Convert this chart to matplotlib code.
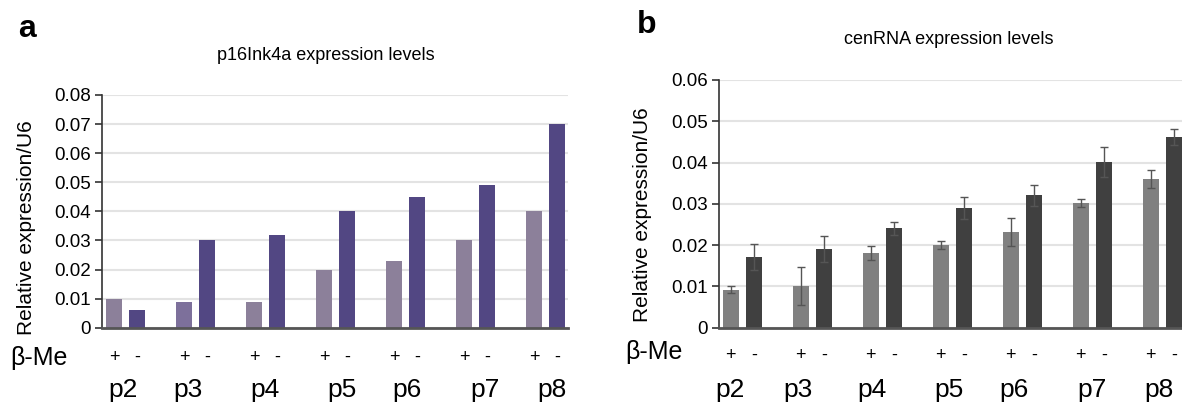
import numpy as np
import matplotlib.pyplot as plt
import matplotlib.transforms as mtransforms

plt.rcParams['font.family'] = ['Liberation Sans Narrow', 'Liberation Sans', 'DejaVu Sans']

passages = ["p2", "p3", "p4", "p5", "p6", "p7", "p8"]

# panel a: p16Ink4a
p16_plus = [0.010, 0.009, 0.009, 0.020, 0.023, 0.030, 0.040]
p16_minus = [0.006, 0.030, 0.032, 0.040, 0.045, 0.049, 0.070]

# panel b: cenRNA (mean, error)
cen_plus = [0.0092, 0.0101, 0.0181, 0.0200, 0.0232, 0.0302, 0.0360]
cen_plus_err = [0.0009, 0.0046, 0.0016, 0.0010, 0.0033, 0.0009, 0.0021]
cen_minus = [0.0171, 0.0191, 0.0241, 0.0290, 0.0321, 0.0401, 0.0462]
cen_minus_err = [0.0032, 0.0032, 0.0016, 0.0027, 0.0025, 0.0036, 0.0020]

# p-label offsets as in the original (group units)
offs_a = [-0.04, -0.11, -0.01, 0.09, 0.02, 0.14, 0.09]
offs_b = [-0.18, -0.21, -0.14, -0.04, -0.12, 0.0, -0.04]

W, H = 1182, 405
fig = plt.figure(figsize=(W / 100, H / 100), dpi=100)

x = np.arange(len(passages))
bw = 0.229
dx = 0.164
xlim = (-0.336, 6.321)


def style_axes(ax, ymax, step):
    ax.set_xlim(*xlim)
    ax.set_ylim(0, ymax)
    ax.set_yticks(np.arange(0, ymax + step / 2, step))
    ax.set_yticklabels(["0"] + ["%.2f" % v for v in np.arange(step, ymax + step / 2, step)])
    ax.yaxis.grid(True, color="#e3e3e3", lw=1.5)
    ax.set_axisbelow(True)
    ax.set_xticks([])
    for s in ["top", "right"]:
        ax.spines[s].set_visible(False)
    ax.spines["left"].set_color("#333333")
    ax.spines["left"].set_linewidth(1.2)
    ax.spines["bottom"].set_color("#555555")
    ax.spines["bottom"].set_linewidth(2)
    ax.spines["bottom"].set_zorder(5)
    ax.tick_params(axis="y", length=5, width=1.2, color="#333333", labelsize=13.5, pad=3)


def under_labels(ax, offs, pm_y, beta_x, beta_y, p_y):
    tr = mtransforms.blended_transform_factory(ax.transData, fig.transFigure)
    for i in x:
        ax.text(i - dx, pm_y, "+", transform=tr, ha="center", va="center", fontsize=13)
        ax.text(i + dx, pm_y, "-", transform=tr, ha="center", va="center", fontsize=13)
        ax.text(i + offs[i], p_y, passages[i], transform=tr, ha="center", va="center", fontsize=19)
    fig.text(beta_x, beta_y, "β-Me", ha="left", va="center", fontsize=18)


# ---- panel a
axa = fig.add_axes([102 / W, 1 - 327.7 / H, 466 / W, 232.7 / H])
cols_plus_a = ["#8c809a", "#7d709b", "#8c809a", "#8c809a", "#8c809a", "#8c809a", "#8c809a"]
axa.bar(x - dx, p16_plus, bw, color=cols_plus_a, zorder=3)
axa.bar(x + dx, p16_minus, bw, color="#524783", zorder=3)
style_axes(axa, 0.08, 0.01)
under_labels(axa, offs_a, 1 - 357 / H, 10 / W, 1 - 358 / H, 1 - 390 / H)
fig.text(326 / W, 1 - 55 / H, "p16Ink4a expression levels", ha="center", va="center", fontsize=13)
fig.text(27 / W, 1 - 228 / H, "Relative expression/U6", rotation=90, ha="center", va="center", fontsize=15)
fig.text(18 / W, 1 - 29 / H, "a", ha="left", va="center", fontsize=23, fontweight="bold",
         family=["Liberation Sans", "DejaVu Sans"])

# ---- panel b
axb = fig.add_axes([718.7 / W, 1 - 327.7 / H, 466 / W, 247.7 / H])
ekw = dict(ecolor="#555555", elinewidth=1, capsize=3, capthick=1)
axb.bar(x - dx, cen_plus, bw, yerr=cen_plus_err, color="#808080", error_kw=ekw, zorder=3)
axb.bar(x + dx, cen_minus, bw, yerr=cen_minus_err, color="#404040", error_kw=ekw, zorder=3)
style_axes(axb, 0.06, 0.01)
under_labels(axb, offs_b, 1 - 355 / H, 625 / W, 1 - 352 / H, 1 - 390 / H)
fig.text(949 / W, 1 - 40 / H, "cenRNA expression levels", ha="center", va="center", fontsize=13)
fig.text(642 / W, 1 - 215 / H, "Relative expression/U6", rotation=90, ha="center", va="center", fontsize=15)
fig.text(637 / W, 1 - 25 / H, "b", ha="left", va="center", fontsize=23, fontweight="bold",
         family=["Liberation Sans", "DejaVu Sans"])

fig.savefig("out.png", dpi=100)
